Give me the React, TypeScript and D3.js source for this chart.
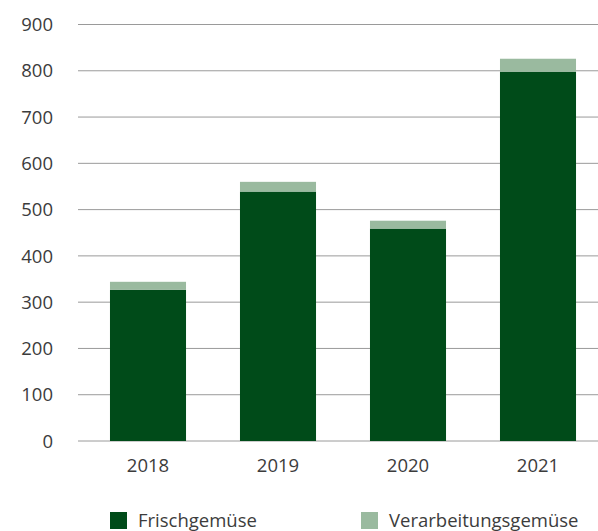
import React from "react";
import * as d3 from "d3";

const years = ["2018", "2019", "2020", "2021"];
const frisch = [327, 539, 459, 798];
const verarbeitung = [17, 21, 17, 28];
const yTicks = [0, 100, 200, 300, 400, 500, 600, 700, 800, 900];
const seriesNames = ["Frischgemüse", "Verarbeitungsgemüse"];
const colors = ["#004b19", "#9aba9f"];

const W = 598;
const H = 531;
const FONT = "'Open Sans', sans-serif";
const FS = 18.5;

export default function App() {
  const x = d3
    .scaleBand<string>()
    .domain(years)
    .range([83, 603])
    .paddingInner(0.415)
    .paddingOuter(0.2075);
  const y = d3.scaleLinear().domain([0, 900]).range([441, 24.5]);
  const stacked = years.map((yr, i) => ({ yr, a: frisch[i], b: verarbeitung[i] }));
  const legendX = [110, 361];

  return (
    <svg
      width={W}
      height={H}
      style={{ position: "absolute", left: 0, top: 0 }}
      fontFamily={FONT}
    >
      <rect width={W} height={H} fill="#fff" />
      {yTicks.map((t) => (
        <g key={t}>
          <line x1={78} x2={598} y1={y(t)} y2={y(t)} stroke="#9a9a9a" strokeWidth={1} />
          <text x={53} y={y(t)} dy="0.36em" textAnchor="end" fontSize={FS} fill="#3c3c3c">
            {t}
          </text>
        </g>
      ))}
      {stacked.map((d) => (
        <g key={d.yr}>
          <rect
            x={x(d.yr)}
            width={x.bandwidth()}
            y={y(d.a)}
            height={y(0) - y(d.a)}
            fill={colors[0]}
          />
          <rect
            x={x(d.yr)}
            width={x.bandwidth()}
            y={y(d.a + d.b)}
            height={y(d.a) - y(d.a + d.b)}
            fill={colors[1]}
          />
          <text
            x={(x(d.yr) as number) + x.bandwidth() / 2}
            y={471.5}
            textAnchor="middle"
            fontSize={FS}
            fill="#3c3c3c"
          >
            {d.yr}
          </text>
        </g>
      ))}
      {seriesNames.map((n, i) => {
        const lx = legendX[i];
        return (
          <g key={n}>
            <rect x={lx} y={512} width={17} height={17} fill={colors[i]} />
            <text x={lx + 28} y={527} fontSize={FS} fill="#3c3c3c">
              {n}
            </text>
          </g>
        );
      })}
    </svg>
  );
}
